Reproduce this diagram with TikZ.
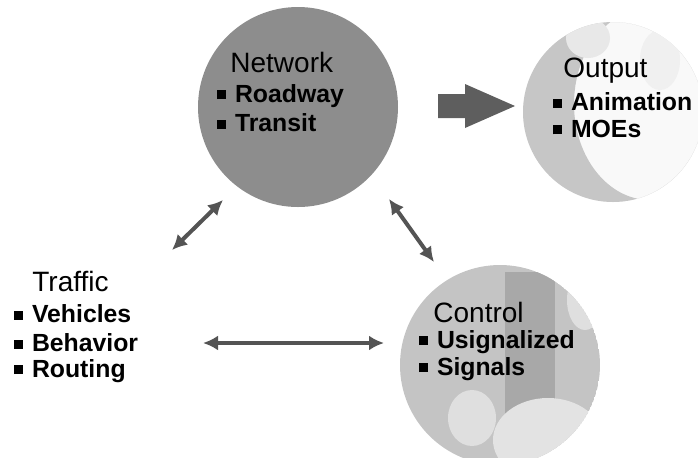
\documentclass[tikz,border=0pt]{standalone}
\usepackage{fontspec}
\setmainfont{Liberation Sans}
\usetikzlibrary{arrows.meta}
\definecolor{netgray}{HTML}{8D8D8D}
\definecolor{linkgray}{HTML}{545454}
\definecolor{blockgray}{HTML}{5E5E5E}
\definecolor{ctlgray}{HTML}{C4C4C4}
\definecolor{ctldark}{HTML}{A8A8A8}
\definecolor{outgray}{HTML}{C6C6C6}
\newcommand{\sqbullet}{\raisebox{0.25ex}{\rule{0.36em}{0.36em}}\hspace{0.35em}}
\begin{document}
\begin{tikzpicture}[x=0.5pt,y=-0.5pt,
  title/.style={font=\fontsize{14}{15}\selectfont, anchor=west, inner sep=0pt},
  item/.style={font=\bfseries\fontsize{12.4}{13}\selectfont, anchor=west, inner sep=0pt},
  link/.style={draw=linkgray, line width=2pt, {Latex[length=7.5pt,width=7.5pt]}-{Latex[length=7.5pt,width=7.5pt]}}
]
\useasboundingbox (0,0) rectangle (698,457);
% Network disc
\fill[netgray] (298,107) circle (100);
% Output disc: nearly white with a grey crescent on its left
\begin{scope}
  \clip (613,112) circle (90);
  \fill[gray!5] (613,112) circle (90);
  \fill[outgray, even odd rule] (613,112) circle (90) (650,104) ellipse (76 and 96);
  \fill[gray!18] (588,38) ellipse (22 and 20);
  \fill[gray!12] (660,60) ellipse (20 and 30);
\end{scope}
% Control disc: light grey with a darker vertical band and pale patches
\begin{scope}
  \clip (500,365) circle (100);
  \fill[ctlgray] (500,365) circle (100);
  \fill[ctldark] (505,272) rectangle (555,420);
  \fill[gray!22] (548,440) ellipse (55 and 42);
  \fill[gray!25] (472,418) ellipse (24 and 28);
  \fill[gray!25] (585,300) ellipse (18 and 30);
\end{scope}
% disc anchors for the links
\node[circle, minimum size=200, inner sep=0pt] (net) at (298,107) {};
\node[circle, minimum size=200, inner sep=0pt] (ctl) at (500,365) {};
\coordinate (trfne) at (172,250);
\coordinate (trfe) at (203,343);
\coordinate (netsw) at (223,200);
\coordinate (netse) at (389,199);
\coordinate (ctln) at (434,262);
\coordinate (ctlw) at (384,343);
% texts
\node[title] (nt) at (230,62) {Network};
\node[item] (n1) at (217,96) {\sqbullet Roadway};
\node[item] (n2) at (217,123) {\sqbullet Transit};
\node[title] (ot) at (563,71) {Output};
\node[item] (o1) at (553,102) {\sqbullet Animation};
\node[item] (o2) at (553,129) {\sqbullet MOEs};
\node[title] (tt) at (32,281) {Traffic};
\node[item] (t1) at (14,314) {\sqbullet Vehicles};
\node[item] (t2) at (14,343) {\sqbullet Behavior};
\node[item] (t3) at (14,371) {\sqbullet Routing};
\node[title] (ct) at (433,312) {Control};
\node[item] (c1) at (419,342) {\sqbullet Usignalized};
\node[item] (c2) at (419,369) {\sqbullet Signals};
% block arrow from Network to Output
\fill[blockgray] (438,94) -- (465,94) -- (465,84) -- (515,106) -- (465,128) -- (465,118) -- (438,118) -- cycle;
% two-way links
\draw[link] (trfne) -- (netsw);
\draw[link] (netse) -- (ctln);
\draw[link] (trfe) -- (ctlw);
\end{tikzpicture}
\end{document}
